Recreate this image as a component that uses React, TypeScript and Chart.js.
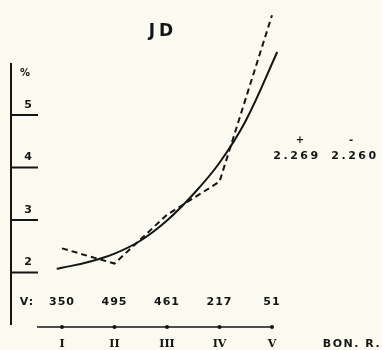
import React, { useEffect, useRef } from "react";
import { Chart, registerables } from "chart.js";

Chart.register(...registerables);

// ---- data ----
const categories = ["I", "II", "III", "IV", "V"];
const sampleCounts = [350, 495, 461, 217, 51];
const observedPct = [2.46, 2.17, 3.1, 3.73, 6.9];
const fittedX = [0.9, 1.0, 1.5, 2.0, 2.5, 3.0, 3.5, 4.0, 4.5, 5.1];
const fittedPct = [2.07, 2.09, 2.2, 2.36, 2.61, 2.99, 3.49, 4.09, 4.89, 6.2];
const yTicks = [2, 3, 4, 5];
const chartTitle = "JD";
const yUnit = "%";
const countLabel = "V:";
const xAxisName = "BON. R.";
const statSigns = ["+", "-"];
const statValues = ["2.269", "2.260"];

const INK = "#151515";
const BG = "#fbfaf1";

export default function App() {
  const ref = useRef<HTMLCanvasElement | null>(null);

  useEffect(() => {
    if (!ref.current) return;

    const decor = {
      id: "decor",
      afterDraw(chart: any) {
        const { ctx } = chart;
        const x = chart.scales.x;
        const y = chart.scales.y;
        ctx.save();
        ctx.strokeStyle = INK;
        ctx.fillStyle = INK;
        ctx.lineWidth = 2;
        ctx.textAlign = "center";
        ctx.textBaseline = "middle";

        // vertical axis
        const axisX = 11;
        ctx.beginPath();
        ctx.moveTo(axisX, 63);
        ctx.lineTo(axisX, y.getPixelForValue(1.0));
        ctx.stroke();

        // y ticks: lines with labels above
        ctx.font = "bold 11px 'DejaVu Sans'";
        yTicks.forEach((t) => {
          const py = y.getPixelForValue(t);
          ctx.beginPath();
          ctx.moveTo(axisX, py);
          ctx.lineTo(38, py);
          ctx.stroke();
          ctx.fillText(String(t), 28, py - 10);
        });
        ctx.font = "bold 10px 'DejaVu Sans'";
        ctx.fillText(yUnit, 25, 73);

        // sample count row
        ctx.font = "bold 11px 'DejaVu Sans'";
        (ctx as any).letterSpacing = "1px";
        ctx.fillText(countLabel, 27, 302);
        sampleCounts.forEach((c, i) => {
          ctx.fillText(String(c), x.getPixelForValue(i + 1), 302);
        });
        (ctx as any).letterSpacing = "0px";

        // horizontal axis with dots
        const axisY = 327;
        ctx.lineWidth = 1.6;
        ctx.beginPath();
        ctx.moveTo(37, axisY);
        ctx.lineTo(x.getPixelForValue(categories.length), axisY);
        ctx.stroke();
        categories.forEach((_, i) => {
          ctx.beginPath();
          ctx.arc(x.getPixelForValue(i + 1), axisY, 2, 0, Math.PI * 2);
          ctx.fill();
        });
        ctx.font = "bold 11px 'DejaVu Serif'";
        categories.forEach((c, i) => {
          ctx.fillText(c, x.getPixelForValue(i + 1), 344);
        });

        ctx.font = "bold 11px 'DejaVu Sans'";
        (ctx as any).letterSpacing = "1.5px";
        ctx.fillText(xAxisName, 352, 344);

        // title
        ctx.font = "bold 17px 'DejaVu Sans'";
        (ctx as any).letterSpacing = "4px";
        ctx.fillText(chartTitle, 163, 32);

        // statistics
        ctx.font = "bold 11px 'DejaVu Sans'";
        (ctx as any).letterSpacing = "2.5px";
        const statX = [297, 355];
        statValues.forEach((v, i) => {
          ctx.fillText(v, statX[i], 156);
        });
        (ctx as any).letterSpacing = "0px";
        ctx.font = "bold 10px 'DejaVu Sans'";
        statSigns.forEach((s, i) => {
          ctx.fillText(s, statX[i] + (i === 0 ? 3 : -4), 140);
        });
        ctx.restore();
      },
    };

    const chart = new Chart(ref.current, {
      type: "line",
      data: {
        datasets: [
          {
            label: "observed",
            data: observedPct.map((v, i) => ({ x: i + 1, y: v })),
            borderColor: INK,
            borderWidth: 2,
            borderDash: [6, 4],
            pointRadius: 0,
            tension: 0,
            fill: false,
            clip: false as any,
          },
          {
            label: "fitted",
            data: fittedX.map((xv, i) => ({ x: xv, y: fittedPct[i] })),
            borderColor: INK,
            borderWidth: 2,
            pointRadius: 0,
            tension: 0.4,
            fill: false,
            clip: false as any,
          },
        ],
      },
      options: {
        animation: false,
        responsive: false,
        devicePixelRatio: 1,
        layout: { padding: { left: 9.5, right: 57.5, top: 10, bottom: 25 } },
        plugins: {
          legend: { display: false },
          title: { display: false },
          tooltip: { enabled: false },
        },
        scales: {
          x: { type: "linear", min: 0, max: 6, display: false },
          y: { type: "linear", min: 1, max: 7, display: false },
        },
      },
      plugins: [decor],
    });
    return () => chart.destroy();
  }, []);

  return (
    <div
      style={{
        position: "fixed",
        left: 0,
        top: 0,
        width: 382,
        height: 350,
        background: BG,
      }}
    >
      <canvas ref={ref} width={382} height={350} style={{ display: "block" }} />
    </div>
  );
}
